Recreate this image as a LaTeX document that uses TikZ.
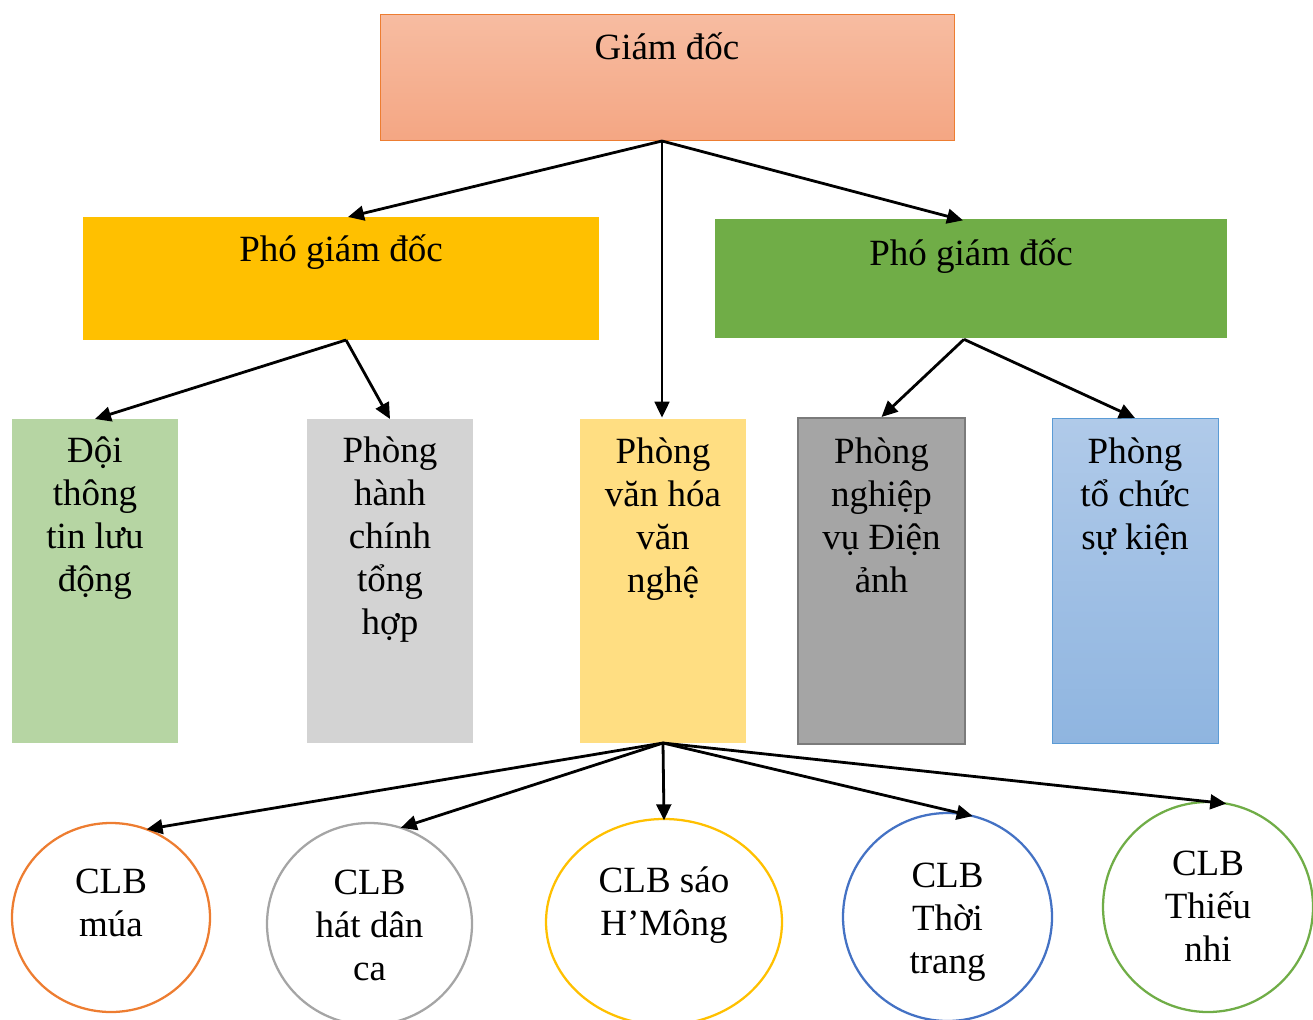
\documentclass[tikz,border=0pt]{standalone}
\usepackage{fontspec}
\setmainfont{Liberation Serif}
\usetikzlibrary{shapes.geometric, arrows.meta}
\definecolor{gdtop}{HTML}{F7BCA1}
\definecolor{gdbot}{HTML}{F4A683}
\definecolor{orangeline}{HTML}{ED7D31}
\definecolor{gold}{HTML}{FFC000}
\definecolor{grn}{HTML}{70AD47}
\definecolor{lgrn}{HTML}{B6D5A3}
\definecolor{lgray}{HTML}{D3D3D3}
\definecolor{lyel}{HTML}{FFDE82}
\definecolor{mgray}{HTML}{A5A5A5}
\definecolor{dgray}{HTML}{7B7B7B}
\definecolor{tctop}{HTML}{B0CAE9}
\definecolor{tcbot}{HTML}{8FB5E0}
\definecolor{tcline}{HTML}{5B9BD5}
\definecolor{blu}{HTML}{4472C4}
\newcommand\mainsize{\fontsize{27.75pt}{32.25pt}\selectfont}
\newcommand\intext[4]{\parbox[c][#2][t]{#1}{\lineskiplimit=-100pt\centering\rule{0pt}{#3}#4}}
\tikzset{
  boxnode/.style={rectangle, inner sep=0pt, outer sep=0pt, anchor=north west, font=\mainsize},
  clbnode/.style={ellipse, inner sep=0pt, outer sep=0pt, line width=1.7pt, draw, font=\mainsize},
  arr/.style={line width=2.1pt, -{Triangle[length=12pt,width=11pt]}},
}
\begin{document}
\begin{tikzpicture}[x=0.75pt, y=-0.75pt]
\useasboundingbox (0,0) rectangle (1313,1020);
% top level
\node[boxnode, draw=orangeline, line width=0.75pt, top color=gdtop, bottom color=gdbot] (gd) at (380,15)
  {\intext{430.5pt}{94.5pt}{33.75pt}{Giám đốc}};
% deputies
\node[boxnode, fill=gold] (pgd1) at (83,217)
  {\intext{387pt}{92.25pt}{33pt}{Phó giám đốc}};
\node[boxnode, fill=grn] (pgd2) at (715,219)
  {\intext{384pt}{89.25pt}{34.5pt}{Phó giám đốc}};
% departments
\node[boxnode, fill=lgrn] (doi) at (12,419)
  {\intext{124.5pt}{243pt}{32.25pt}{Đội\\thông\\tin lưu\\động}};
\node[boxnode, fill=lgray] (hc) at (307,419)
  {\intext{124.5pt}{243pt}{32.25pt}{Phòng\\hành\\chính\\tổng\\hợp}};
\node[boxnode, fill=lyel] (vh) at (580,419)
  {\intext{124.5pt}{243pt}{33pt}{Phòng\\văn hóa\\văn\\nghệ}};
\node[boxnode, fill=mgray, draw=dgray, line width=2.2pt] (nv) at (798,418)
  {\intext{125.25pt}{244.5pt}{33.75pt}{Phòng\\nghiệp\\vụ Điện\\ảnh}};
\node[boxnode, draw=tcline, line width=0.75pt, top color=tctop, bottom color=tcbot] (tc) at (1052,418)
  {\intext{124.5pt}{243.75pt}{33.75pt}{Phòng\\tổ chức\\sự kiện}};
% clubs
\node[clbnode, draw=orangeline, minimum width=148.5pt, minimum height=141.75pt] (mua) at (111,917.5)
  {\intext{97.5pt}{97.5pt}{30.4pt}{CLB\\múa}};
\node[clbnode, draw=mgray, minimum width=153.75pt, minimum height=151.5pt] (hat) at (369.5,924)
  {\intext{97.5pt}{97.5pt}{26.25pt}{CLB\\hát dân\\ca}};
\node[clbnode, draw=gold, minimum width=177pt, minimum height=154.5pt] (sao) at (664,922)
  {\intext{112.5pt}{97.5pt}{26.25pt}{CLB sáo\\H’Mông}};
\node[clbnode, draw=blu, minimum width=156.75pt, minimum height=156pt] (tt) at (947.5,917)
  {\intext{97.5pt}{97.5pt}{26.25pt}{CLB\\Thời\\trang}};
\node[clbnode, draw=grn, minimum width=157.5pt, minimum height=157.5pt] (tn) at (1208,907)
  {\intext{97.5pt}{97.5pt}{24.75pt}{CLB\\Thiếu\\nhi}};
% connectors
\draw[arr] ([xshift=-3.75pt]gd.south) -- ([xshift=5.25pt]pgd1.north);
\draw[arr] ([xshift=-3.75pt]gd.south) -- ([xshift=-6pt,yshift=-1pt]pgd2.north);
\draw[arr] ([xshift=-3.75pt]gd.south) -- ([xshift=-0.75pt,yshift=1pt]vh.north);
\draw[arr] ([xshift=3.75pt]pgd1.south) -- (doi.north);
\draw[arr] ([xshift=3.75pt]pgd1.south) -- (hc.north);
\draw[arr] ([xshift=-5.25pt,yshift=-1pt]pgd2.south) -- ([yshift=0.75pt]nv.north);
\draw[arr] ([xshift=-5.25pt,yshift=-1pt]pgd2.south) -- (tc.north);
\draw[arr] (vh.south) -- (mua.68);
\draw[arr] (vh.south) -- (hat.72);
\draw[arr] (vh.south) -- ([yshift=-1pt]sao.north);
\draw[arr] (vh.south) -- (tt.76);
\draw[arr] (vh.south) -- (tn.80);
\end{tikzpicture}
\end{document}
